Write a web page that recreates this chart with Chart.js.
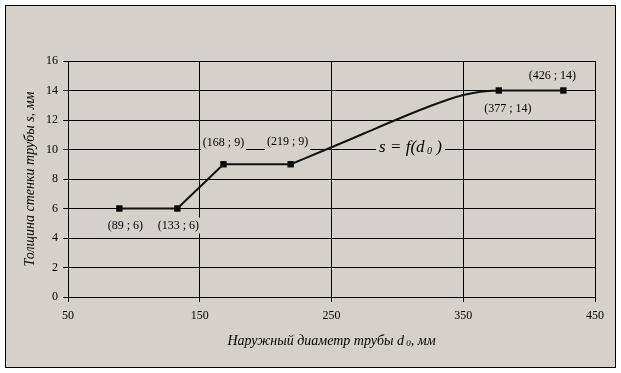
<!DOCTYPE html>
<html>
<head>
<meta charset="utf-8">
<script src="https://cdn.jsdelivr.net/npm/chart.js@4.4.1/dist/chart.umd.min.js"></script>
<style>
  html, body { margin: 0; padding: 0; background: #fff; }
  #wrap { width: 621px; height: 373px; }
</style>
</head>
<body>
<div id="wrap"><canvas id="pipeChart" width="621" height="373"></canvas></div>
<script>
// точки с маркерами (d0, s)
const diam = [89, 133, 168, 219, 377, 426];
const thick = [6, 6, 9, 9, 14, 14];
// плавная кривая между 219 и 377
const curveD = [219, 250, 275, 300, 325, 350, 363, 377];
const curveS = [9, 10.15, 11.1, 12.05, 12.95, 13.69, 13.92, 14];
// шкалы
const xTicks = [50, 150, 250, 350, 450];
const yTicks = [0, 2, 4, 6, 8, 10, 12, 14, 16];

const BG = '#d6d0ca';
const SERIF = '"Liberation Serif", "Times New Roman", serif';

const pts = (xs, ys) => xs.map((x, i) => ({ x: x, y: ys[i] }));

// подписи точек: индекс точки + смещение в пикселях
const pointLabels = [
  { i: 0, dx: 6, dy: 17 },
  { i: 1, dx: 1, dy: 17 },
  { i: 2, dx: 0, dy: -21 },
  { i: 3, dx: -3, dy: -22 },
  { i: 4, dx: 9, dy: 18 },
  { i: 5, dx: -11, dy: -15 }
];

function richText(ctx, parts, cx, cy) {
  let total = 0;
  parts.forEach(p => { ctx.font = p.font; p.w = ctx.measureText(p.t).width; total += p.w; });
  let x = cx - total / 2;
  ctx.textBaseline = 'middle';
  ctx.textAlign = 'left';
  parts.forEach(p => {
    ctx.font = p.font;
    ctx.fillText(p.t, x, cy + (p.dy || 0));
    x += p.w;
  });
  return total;
}

const decor = {
  id: 'decor',
  beforeDraw(chart) {
    const ctx = chart.ctx;
    ctx.save();
    ctx.fillStyle = '#fff';
    ctx.fillRect(0, 0, chart.width, chart.height);
    ctx.fillStyle = BG;
    ctx.fillRect(5, 5, 610, 363);
    ctx.strokeStyle = '#000';
    ctx.lineWidth = 1;
    ctx.strokeRect(5.5, 5.5, 610, 362);
    ctx.restore();
  },
  beforeDatasetsDraw(chart) {
    const ctx = chart.ctx;
    const xs = chart.scales.x, ys = chart.scales.y;
    ctx.save();
    ctx.font = '12px ' + SERIF;
    ctx.textAlign = 'center';
    ctx.textBaseline = 'middle';
    pointLabels.forEach(l => {
      const txt = '(' + diam[l.i] + ' ; ' + thick[l.i] + ')';
      const cx = xs.getPixelForValue(diam[l.i]) + l.dx;
      const cy = ys.getPixelForValue(thick[l.i]) + l.dy;
      const w = ctx.measureText(txt).width;
      ctx.fillStyle = BG;
      ctx.fillRect(cx - w / 2 - 2, cy - 8, w + 4, 16);
      ctx.fillStyle = '#000';
      ctx.fillText(txt, cx, cy);
    });
    // надпись s = f(d0)
    const fx = xs.getPixelForValue(310), fy = ys.getPixelForValue(10) - 2;
    const parts = [
      { t: 's = f(d', font: 'italic 17px ' + SERIF },
      { t: ' 0', font: 'italic 10px ' + SERIF, dy: 4 },
      { t: ' )', font: 'italic 17px ' + SERIF }
    ];
    let tw = 0;
    parts.forEach(p => { ctx.font = p.font; tw += ctx.measureText(p.t).width; });
    ctx.fillStyle = BG;
    ctx.fillRect(fx - tw / 2 - 3, fy - 10, tw + 6, 20);
    ctx.fillStyle = '#000';
    richText(ctx, parts, fx, fy);
    ctx.restore();
  },
  afterDraw(chart) {
    const ctx = chart.ctx;
    const a = chart.chartArea;
    ctx.save();
    ctx.fillStyle = '#000';
    richText(ctx, [
      { t: 'Наружный диаметр трубы d', font: 'italic 14px ' + SERIF },
      { t: ' 0', font: 'italic 9px ' + SERIF, dy: 3 },
      { t: ', мм', font: 'italic 14px ' + SERIF }
    ], (a.left + a.right) / 2, 341);
    ctx.translate(30, (a.top + a.bottom) / 2);
    ctx.rotate(-Math.PI / 2);
    richText(ctx, [
      { t: 'Толщина стенки трубы s, мм', font: 'italic 14px ' + SERIF }
    ], 0, 0);
    ctx.restore();
  }
};

new Chart(document.getElementById('pipeChart'), {
  type: 'line',
  data: {
    datasets: [
      {
        data: pts(diam.slice(0, 4), thick.slice(0, 4)),
        borderColor: '#111', borderWidth: 2, pointRadius: 0, tension: 0
      },
      {
        data: pts(curveD, curveS),
        borderColor: '#111', borderWidth: 2, pointRadius: 0,
        cubicInterpolationMode: 'monotone'
      },
      {
        data: pts(diam.slice(4), thick.slice(4)),
        borderColor: '#111', borderWidth: 2, pointRadius: 0, tension: 0
      },
      {
        data: pts(diam, thick),
        showLine: false,
        pointStyle: 'rect', pointRadius: 4.5,
        pointBackgroundColor: '#000', pointBorderColor: '#000', pointBorderWidth: 0
      }
    ]
  },
  options: {
    responsive: false,
    animation: false,
    events: [],
    layout: { padding: { top: 61, right: 26, left: 0, bottom: 0 } },
    plugins: { legend: { display: false }, tooltip: { enabled: false }, title: { display: false } },
    scales: {
      x: {
        type: 'linear', min: xTicks[0], max: xTicks[xTicks.length - 1],
        afterBuildTicks: s => { s.ticks = xTicks.map(v => ({ value: v })); },
        afterFit: s => { s.height = 76; },
        grid: { color: '#000', lineWidth: 1, tickLength: 5, tickColor: '#000' },
        border: { color: '#000', width: 1 },
        ticks: { color: '#000', font: { family: SERIF, size: 12 }, padding: 7, maxRotation: 0 }
      },
      y: {
        type: 'linear', min: yTicks[0], max: yTicks[yTicks.length - 1],
        afterBuildTicks: s => { s.ticks = yTicks.map(v => ({ value: v })); },
        afterFit: s => { s.width = 68; },
        grid: { color: '#000', lineWidth: 1, tickLength: 5, tickColor: '#000' },
        border: { color: '#000', width: 1 },
        ticks: { color: '#000', font: { family: SERIF, size: 12 }, padding: 5 }
      }
    }
  },
  plugins: [decor]
});
</script>
</body>
</html>
